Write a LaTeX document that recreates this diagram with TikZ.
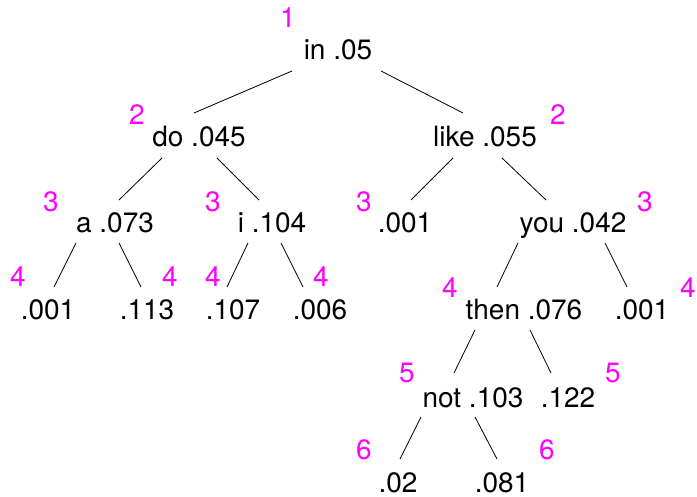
\documentclass[tikz,border=0pt]{standalone}
\usepackage{fontspec}
\setmainfont{TeX Gyre Heros}
\usetikzlibrary{calc}
\definecolor{mag}{RGB}{255,0,255}
\tikzset{
  wordnode/.style={anchor=base,inner sep=0pt,font=\fontsize{28}{30}\selectfont},
  depthnum/.style={anchor=base,inner sep=0pt,text=mag,font=\fontsize{28}{30}\selectfont},
  edge/.style={draw=black,line width=0.8pt}
}
\begin{document}
\begin{tikzpicture}[x=1pt,y=-1pt]
\useasboundingbox (0,0) rectangle (697,497);
% tree nodes (base points)
\node[wordnode] (in)   at (338,60)  {in .05};
\node[wordnode] (do)   at (199,147) {do .045};
\node[wordnode] (like) at (485,147) {like .055};
\node[wordnode] (a)    at (115,233) {a .073};
\node[wordnode] (i)    at (272,233) {i .104};
\node[wordnode] (l1)   at (405,233) {.001};
\node[wordnode] (you)  at (573,233) {you .042};
\node[wordnode] (a1)   at (48,320)  {.001};
\node[wordnode] (a2)   at (147,320) {.113};
\node[wordnode] (i1)   at (233,320) {.107};
\node[wordnode] (i2)   at (320,320) {.006};
\node[wordnode] (then) at (524,320) {then .076};
\node[wordnode] (y2)   at (642,320) {.001};
\node[wordnode] (not)  at (473,407) {not .103};
\node[wordnode] (t2)   at (568,407) {.122};
\node[wordnode] (n1)   at (398,492) {.02};
\node[wordnode] (n2)   at (502,492) {.081};
% depth labels
\node[depthnum] (d1)    at (288,28)  {1};
\node[depthnum] (d2a)   at (137,125) {2};
\node[depthnum] (d2b)   at (558,125) {2};
\node[depthnum] (d3a)   at (51,212)  {3};
\node[depthnum] (d3b)   at (213,212) {3};
\node[depthnum] (d3c)   at (364,212) {3};
\node[depthnum] (d3d)   at (645,212) {3};
\node[depthnum] (d4a)   at (18,287)  {4};
\node[depthnum] (d4b)   at (170,287) {4};
\node[depthnum] (d4c)   at (213,287) {4};
\node[depthnum] (d4d)   at (321,287) {4};
\node[depthnum] (d4e)   at (450,298) {4};
\node[depthnum] (d4f)   at (688,298) {4};
\node[depthnum] (d5a)   at (407,383) {5};
\node[depthnum] (d5b)   at (613,383) {5};
\node[depthnum] (d6a)   at (364,460) {6};
\node[depthnum] (d6b)   at (547,460) {6};
% edges
\draw[edge] ($(in.base)+(-46,11)$) -- ($(do.base)+(-5,-34)$);
\draw[edge] ($(in.base)+(43,11)$) -- ($(like.base)+(-22,-34)$);
\draw[edge] ($(do.base)+(-37,11)$) -- ($(a.base)+(4,-33)$);
\draw[edge] ($(do.base)+(18,11)$) -- ($(i.base)+(-13,-33)$);
\draw[edge] ($(a.base)+(-39,10)$) -- ($(a1.base)+(6,-33)$);
\draw[edge] ($(a.base)+(4,10)$) -- ($(a2.base)+(-6,-33)$);
\draw[edge] ($(i.base)+(-24,10)$) -- ($(i1.base)+(-6,-33)$);
\draw[edge] ($(i.base)+(9,10)$) -- ($(i2.base)+(-17,-33)$);
\draw[edge] ($(like.base)+(-32,11)$) -- ($(l1.base)+(6,-33)$);
\draw[edge] ($(like.base)+(17,11)$) -- ($(you.base)+(-27,-33)$);
\draw[edge] ($(you.base)+(-55,10)$) -- ($(then.base)+(-27,-33)$);
\draw[edge] ($(you.base)+(32,10)$) -- ($(y2.base)+(-15,-33)$);
\draw[edge] ($(then.base)+(-49,10)$) -- ($(not.base)+(-19,-34)$);
\draw[edge] ($(then.base)+(6,10)$) -- ($(t2.base)+(-17,-34)$);
\draw[edge] ($(not.base)+(-52,10)$) -- ($(n1.base)+(2,-33)$);
\draw[edge] ($(not.base)+(2,10)$) -- ($(n2.base)+(-5,-33)$);
\end{tikzpicture}
\end{document}
